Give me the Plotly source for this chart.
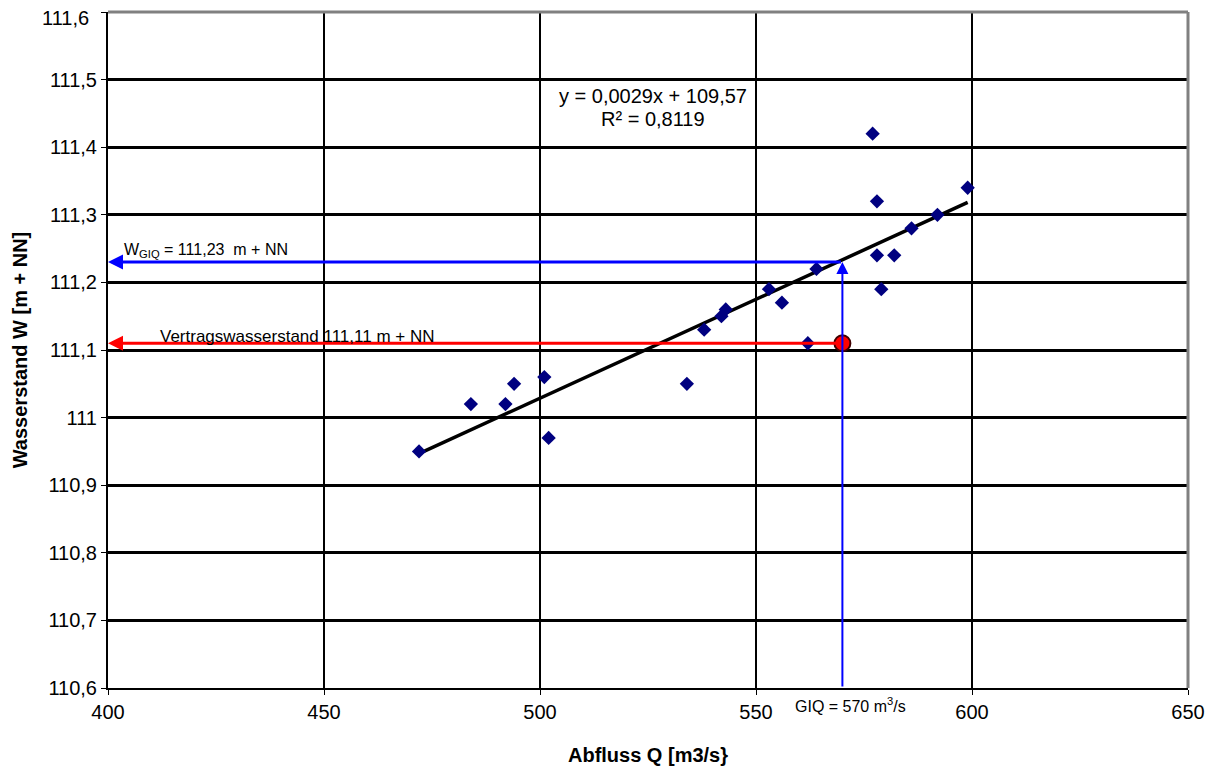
import numpy as np
import plotly.graph_objects as go

# Data
abfluss_q = [472, 484, 492, 494, 501, 502, 534, 538, 542, 543, 553, 556, 562, 564,
             577, 578, 578, 579, 582, 586, 592, 599]
wasserstand_w = [110.95, 111.02, 111.02, 111.05, 111.06, 110.97, 111.05, 111.13, 111.15, 111.16,
                 111.19, 111.17, 111.11, 111.22, 111.42, 111.32, 111.24, 111.19, 111.24, 111.28,
                 111.30, 111.34]
giq_q = [570]
vertrag_w = [111.11]
w_giq = 111.23
r_squared = "0,8119"

x_ticks = [400, 450, 500, 550, 600, 650]
x_ticktext = ["400", "450", "500", "550", "600", "650"]
y_ticks = [110.6, 110.7, 110.8, 110.9, 111.0, 111.1, 111.2, 111.3, 111.4, 111.5, 111.6]
y_ticktext = ["110,6", "110,7", "110,8", "110,9", "111", "111,1", "111,2", "111,3", "111,4", "111,5", "111,6"]

x_min, x_max = 400, 650
y_min, y_max = 110.6, 111.6

# Linear trendline fitted to the data (as the spreadsheet did)
coef = np.polyfit(abfluss_q, wasserstand_w, 1)
tx = np.array([min(abfluss_q), max(abfluss_q)])
ty = np.polyval(coef, tx)

fig = go.Figure()
fig.add_trace(go.Scatter(x=tx, y=ty, mode="lines", line=dict(color="black", width=3.5),
                         hoverinfo="skip", showlegend=False))
fig.add_trace(go.Scatter(x=abfluss_q, y=wasserstand_w, mode="markers",
                         marker=dict(symbol="diamond", size=11, color="#000080"),
                         showlegend=False))

font = "Liberation Sans, Arial, sans-serif"
ann = []
# arrows
ann.append(dict(x=x_min, y=w_giq, ax=giq_q[0], ay=w_giq, xref="x", yref="y", axref="x", ayref="y",
                showarrow=True, arrowhead=2, arrowsize=1.0, arrowwidth=3, arrowcolor="#0000ff", text=""))
ann.append(dict(x=giq_q[0], y=w_giq, ax=giq_q[0], ay=y_min, xref="x", yref="y", axref="x", ayref="y",
                showarrow=True, arrowhead=2, arrowsize=1.2, arrowwidth=2, arrowcolor="#0000ff", text=""))
ann.append(dict(x=x_min, y=vertrag_w[0], ax=giq_q[0], ay=vertrag_w[0], xref="x", yref="y", axref="x", ayref="y",
                showarrow=True, arrowhead=2, arrowsize=1.0, arrowwidth=3, arrowcolor="#ff0000", text=""))
# texts
ann.append(dict(x=526.2, y=111.476, xref="x", yref="y", showarrow=False,
                text="y = 0,0029x + 109,57", font=dict(family=font, size=20, color="black")))
ann.append(dict(x=526.2, y=111.442, xref="x", yref="y", showarrow=False,
                text=f"R² = {r_squared}", font=dict(family=font, size=20, color="black")))
ann.append(dict(x=403.3, y=111.247, xref="x", yref="y", showarrow=False, xanchor="left",
                text="W<sub>GIQ</sub> = 111,23  m + NN", font=dict(family=font, size=16, color="black")))
ann.append(dict(x=411.6, y=111.12, xref="x", yref="y", showarrow=False, xanchor="left",
                text="Vertragswasserstand 111,11 m + NN", font=dict(family=font, size=17, color="black")))
ann.append(dict(x=558.6, y=-0.025, xref="x", yref="paper", showarrow=False, xanchor="left", yanchor="middle",
                text="GIQ = 570 m<sup>3</sup>/s", font=dict(family=font, size=16, color="black")))
# top y tick label (plotly hides it because it touches the figure edge)
ann.append(dict(x=0, y=y_ticks[-1], xref="paper", yref="y", showarrow=False, xanchor="right", yanchor="middle",
                xshift=-17, yshift=-6, text=y_ticktext[-1], font=dict(family=font, size=20, color="black")))

fig.add_trace(go.Scatter(x=giq_q, y=vertrag_w, mode="markers",
                         marker=dict(symbol="circle", size=16, color="#ff0000",
                                     line=dict(color="#400000", width=2)),
                         showlegend=False))

shapes = [
    dict(type="line", xref="paper", yref="paper", x0=0, x1=1, y0=1, y1=1, line=dict(color="#808080", width=3), layer="above"),
    dict(type="line", xref="paper", yref="paper", x0=1, x1=1, y0=0, y1=1, line=dict(color="#808080", width=3), layer="above"),
]

# the page body has an 8px margin, so the figure is 8px smaller than the window
fig.update_layout(
    width=1211, height=766,
    margin=dict(l=100, r=31, t=4, b=86),
    paper_bgcolor="white", plot_bgcolor="white",
    separators=", ",
    annotations=ann,
    shapes=shapes,
    xaxis=dict(range=[x_min, x_max], tickvals=x_ticks, ticktext=x_ticktext, automargin=False,
               showgrid=True, gridcolor="black", gridwidth=2,
               showline=True, linecolor="black", linewidth=2,
               ticks="outside", ticklen=5, tickcolor="black", zeroline=False,
               tickfont=dict(family=font, size=20, color="black"),
               title=dict(text="<b>Abfluss Q [m3/s}</b>", font=dict(family=font, size=20, color="black"),
                          standoff=26)),
    yaxis=dict(range=[y_min, y_max], tickvals=y_ticks, ticktext=y_ticktext, automargin=False,
               showgrid=True, gridcolor="black", gridwidth=2.5,
               showline=True, linecolor="black", linewidth=2,
               ticks="outside", ticklen=5, tickcolor="black", zeroline=False,
               tickfont=dict(family=font, size=20, color="black"),
               title=dict(text="<b>Wasserstand W [m + NN]</b>", font=dict(family=font, size=20, color="black"))),
)

fig.write_html("out.html")
